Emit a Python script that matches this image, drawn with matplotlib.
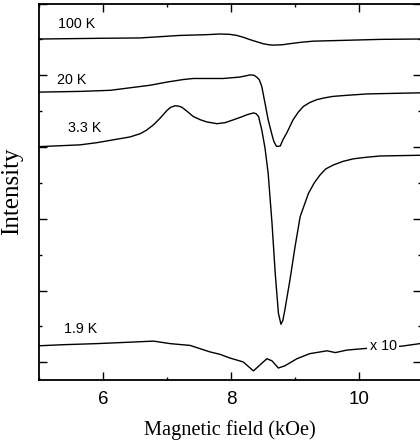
import matplotlib
matplotlib.use("Agg")
import matplotlib.pyplot as plt
from matplotlib.ticker import MultipleLocator, FixedLocator

# ---- data ----
x_100K = [5.00, 5.95, 6.58, 7.20, 7.60, 7.83, 7.98, 8.09, 8.19, 8.30, 8.39, 8.50,
          8.59, 8.66, 8.80, 8.92, 9.10, 9.28, 9.70, 10.33, 10.95]
y_100K = [9.01, 9.03, 9.04, 9.11, 9.13, 9.15, 9.14, 9.11, 9.06, 8.99, 8.94, 8.88,
          8.85, 8.84, 8.85, 8.88, 8.92, 8.95, 8.97, 9.00, 9.01]

x_20K = [5.00, 5.64, 6.11, 6.42, 6.73, 7.00, 7.25, 7.41, 7.67, 7.88, 8.14, 8.30,
         8.36, 8.40, 8.44, 8.48, 8.53, 8.58, 8.64, 8.67, 8.71, 8.74, 8.77, 8.81,
         8.87, 8.97, 9.05, 9.13, 9.23, 9.34, 9.46, 9.59, 9.80, 10.13, 10.95]
y_20K = [7.53, 7.55, 7.58, 7.65, 7.72, 7.81, 7.88, 7.91, 7.91, 7.91, 7.95, 8.01,
         8.00, 7.95, 7.88, 7.69, 7.23, 6.76, 6.34, 6.15, 6.02, 6.02, 6.03, 6.20,
         6.39, 6.76, 6.97, 7.13, 7.24, 7.32, 7.37, 7.41, 7.44, 7.48, 7.51]

x_3K = [5.00, 5.64, 5.90, 6.16, 6.42, 6.58, 6.68, 6.79, 6.89, 7.00, 7.06, 7.13,
        7.18, 7.23, 7.31, 7.41, 7.52, 7.62, 7.78, 7.91, 8.04, 8.15, 8.25, 8.35,
        8.39, 8.43, 8.48, 8.53, 8.58, 8.64, 8.69, 8.74, 8.78, 8.81, 8.84, 8.92,
        9.00, 9.08, 9.21, 9.30, 9.39, 9.48, 9.60, 9.75, 9.91, 10.09, 10.33, 10.95]
y_3K = [6.01, 6.06, 6.12, 6.20, 6.28, 6.37, 6.47, 6.62, 6.80, 7.02, 7.11, 7.15,
        7.14, 7.11, 7.00, 6.85, 6.76, 6.70, 6.65, 6.68, 6.76, 6.83, 6.90, 6.95,
        6.93, 6.85, 6.48, 5.98, 5.27, 3.88, 2.49, 1.37, 1.06, 1.17, 1.45, 2.29,
        3.22, 4.06, 4.71, 5.00, 5.22, 5.39, 5.50, 5.60, 5.67, 5.71, 5.75, 5.77]

x_2K = [5.00, 5.38, 5.90, 6.42, 6.79, 7.05, 7.36, 7.67, 7.83, 7.98, 8.19, 8.35,
        8.56, 8.64, 8.74, 8.84, 9.03, 9.23, 9.50, 9.63, 9.81, 10.07, 10.14, 10.67,
        10.95]
y_2K = [0.46, 0.49, 0.52, 0.56, 0.59, 0.52, 0.47, 0.29, 0.22, 0.12, 0.01, -0.24,
        0.10, 0.04, -0.16, -0.10, 0.10, 0.24, 0.32, 0.27, 0.34, 0.38, 0.39, 0.45,
        0.52]

labels = ["100 K", "20 K", "3.3 K", "1.9 K"]
label_x = [5.30, 5.28, 5.45, 5.39]
label_y = [9.42, 7.88, 6.52, 0.92]
x_ticks = [6, 8, 10]

fig = plt.figure(figsize=(4.2, 4.45), dpi=100)
ax = fig.add_axes([39 / 420, 1 - 379.5 / 445, 381.5 / 420, 376 / 445])

for xs, ys in [(x_100K, y_100K), (x_20K, y_20K), (x_3K, y_3K), (x_2K, y_2K)]:
    ax.plot(xs, ys, color="black", lw=1.0, zorder=2)

sans = "Liberation Sans"
for t, tx, ty in zip(labels, label_x, label_y):
    ax.text(tx, ty, t, fontsize=10.3, family=sans, va="center", ha="left")
ax.text(10.375, 0.44, "x 10", fontsize=10.3, family=sans, va="center", ha="center",
        zorder=3, bbox=dict(facecolor="white", edgecolor="none", pad=1.5))

ax.set_xlim(5, 10.96)
ax.set_ylim(-0.48, 10.0)
ax.xaxis.set_major_locator(FixedLocator(x_ticks))
ax.xaxis.set_minor_locator(MultipleLocator(1))
ax.yaxis.set_major_locator(MultipleLocator(2))
ax.yaxis.set_minor_locator(MultipleLocator(1))
ax.set_yticklabels([])
ax.tick_params(which="both", direction="in", top=True, right=True, width=1.0)
ax.tick_params(which="major", length=5.5)
ax.tick_params(which="minor", length=2.5)
ax.tick_params(axis="x", labelsize=13.5, pad=8)
for lab in ax.get_xticklabels():
    lab.set_family(sans)
for s in ax.spines.values():
    s.set_linewidth(1.3)

serif = "Liberation Serif"
ax.set_xlabel("Magnetic field (kOe)", family=serif, fontsize=14.7, labelpad=9)
ax.set_ylabel("Intensity", family=serif, fontsize=18, labelpad=8)

fig.savefig("out.png", dpi=100)
